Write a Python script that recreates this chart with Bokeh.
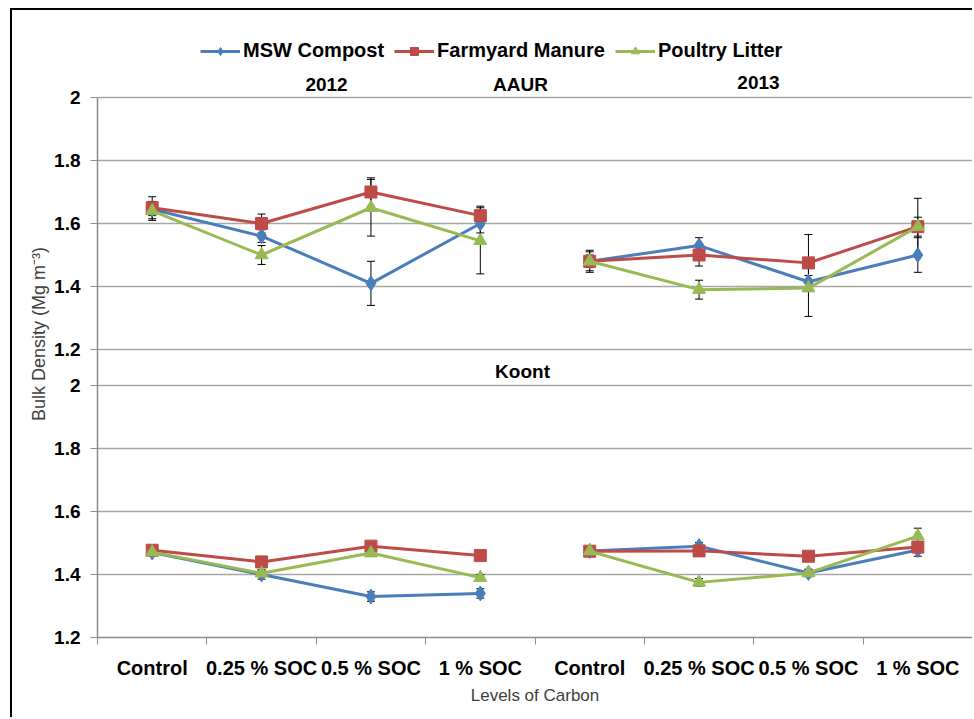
from bokeh.plotting import figure
from bokeh.models import (ColumnDataSource, Range1d, FixedTicker, Grid, Whisker, TeeHead,
                          Legend, LegendItem, Label)
from bokeh.embed import file_html
from bokeh.resources import INLINE

# ---------------- data ----------------
YEARS = ["2012", "2013"]
LEVELS = ["Control", "0.25 % SOC", "0.5 % SOC", "1 % SOC"]
SERIES = ["MSW Compost", "Farmyard Manure", "Poultry Litter"]
Y_TICKS = [1.2, 1.4, 1.6, 1.8, 2.0]

# values ordered: 2012 (Control, 0.25, 0.5, 1), 2013 (Control, 0.25, 0.5, 1)
aaur_msw = [1.645, 1.56, 1.41, 1.60, 1.48, 1.53, 1.415, 1.50]
aaur_fym = [1.65, 1.60, 1.70, 1.625, 1.48, 1.50, 1.475, 1.59]
aaur_pl = [1.64, 1.50, 1.65, 1.545, 1.48, 1.39, 1.395, 1.59]
aaur_msw_err = [0.02, 0.02, 0.07, 0.03, 0.02, 0.025, 0.02, 0.055]
aaur_fym_err = [0.035, 0.03, 0.045, 0.03, 0.035, 0.035, 0.09, 0.09]
aaur_pl_err = [0.03, 0.03, 0.09, 0.105, 0.03, 0.03, 0.09, 0.03]

koont_msw = [1.47, 1.40, 1.33, 1.34, 1.475, 1.49, 1.405, 1.478]
koont_fym = [1.477, 1.44, 1.49, 1.46, 1.474, 1.475, 1.458, 1.487]
koont_pl = [1.471, 1.404, 1.468, 1.39, 1.474, 1.375, 1.405, 1.522]
koont_msw_err = [0.01, 0.015, 0.015, 0.015, 0.01, 0.012, 0.01, 0.02]
koont_fym_err = [0.01, 0.01, 0.01, 0.012, 0.01, 0.01, 0.01, 0.01]
koont_pl_err = [0.01, 0.01, 0.01, 0.01, 0.01, 0.012, 0.012, 0.025]

# ---------------- style / layout ----------------
COLORS = ["#4A7EBB", "#BE4B48", "#98B954"]
MARKERS = ["diamond", "square", "triangle"]
MSIZES = [15, 12, 13]
FONT = "Liberation Sans"
GRID_C = "#A6A6A6"
AXIS_C = "#8C8C8C"

PPU = 252 / 0.8            # pixels per density unit
FRAME_TOP = 30             # page y of frame top
TOP_PANEL_TOP = 97         # page y of 2.0 in the upper panel
FRAME_BOTTOM = 637         # page y of 1.2 in the lower panel
span = (FRAME_BOTTOM - FRAME_TOP) / PPU

bot_start = 1.2
top_end = 2.0 + (TOP_PANEL_TOP - FRAME_TOP) / PPU
top_start = top_end - span
off = bot_start - top_start     # upper-panel value -> default-range coordinate

p = figure(width=962, height=709, output_backend="svg", toolbar_location=None,
           x_range=Range1d(-0.5, 7.5), y_range=Range1d(bot_start, bot_start + span),
           min_border_left=85, min_border_right=2, min_border_top=FRAME_TOP - 10,
           min_border_bottom=82)
p.margin = (8, 0, 0, 10)
p.styles = {"border-left": "2px solid black", "border-top": "2px solid black"}
p.extra_y_ranges = {"top": Range1d(top_start, top_end)}
p.outline_line_color = None
p.xgrid.visible = False

# ---- y axis: one axis carrying the ticks of both panels ----
ya = p.yaxis[0]
top_ticks = [t + off for t in Y_TICKS]
ya.ticker = FixedTicker(ticks=Y_TICKS + top_ticks)
ya.major_label_overrides = {**{t: f"{t:g}" for t in Y_TICKS},
                            **{t + off: f"{t:g}" for t in Y_TICKS}}
ya.bounds = (Y_TICKS[0], Y_TICKS[-1] + off)
ya.axis_line_color = AXIS_C
ya.axis_line_width = 1.5
ya.major_tick_line_color = AXIS_C
ya.major_tick_out = 7
ya.major_tick_in = 0
ya.minor_tick_line_color = None
ya.major_label_standoff = 10
ya.major_label_text_font = FONT
ya.major_label_text_font_style = "bold"
ya.major_label_text_font_size = "19px"
ya.major_label_text_color = "black"
ya.axis_label = "Bulk Density (Mg m\u207b\u00b3)"
ya.axis_label_text_font = FONT
ya.axis_label_text_font_style = "normal"
ya.axis_label_text_font_size = "18px"
ya.axis_label_text_color = "#404040"
ya.axis_label_standoff = 2

p.ygrid.ticker = FixedTicker(ticks=Y_TICKS)
p.ygrid.grid_line_color = GRID_C
p.ygrid.grid_line_width = 1.5
top_grid = Grid(dimension=1, ticker=FixedTicker(ticks=Y_TICKS), y_range_name="top",
                grid_line_color=GRID_C, grid_line_width=1.5)
p.add_layout(top_grid)

# ---- x axis ----
n = len(YEARS) * len(LEVELS)
xs = list(range(n))
xa = p.xaxis[0]
xa.ticker = FixedTicker(ticks=xs, minor_ticks=[i - 0.5 for i in range(n + 1)])
xa.major_label_overrides = {i: LEVELS[i % len(LEVELS)] for i in xs}
xa.major_tick_line_color = None
xa.major_tick_out = 0
xa.major_tick_in = 0
xa.minor_tick_line_color = AXIS_C
xa.minor_tick_out = 7
xa.minor_tick_in = 0
xa.axis_line_color = AXIS_C
xa.axis_line_width = 1.5
xa.major_label_standoff = 12
xa.major_label_text_font = FONT
xa.major_label_text_font_style = "bold"
xa.major_label_text_font_size = "20px"
xa.major_label_text_color = "black"
xa.axis_label = "Levels of Carbon"
xa.axis_label_text_font = FONT
xa.axis_label_text_font_style = "normal"
xa.axis_label_text_font_size = "17px"
xa.axis_label_text_color = "#404040"
xa.axis_label_standoff = 4

panels = [
    ("top", [aaur_msw, aaur_fym, aaur_pl], [aaur_msw_err, aaur_fym_err, aaur_pl_err]),
    ("default", [koont_msw, koont_fym, koont_pl], [koont_msw_err, koont_fym_err, koont_pl_err]),
]

legend_renderers = {}
nl = len(LEVELS)
for rname, vals, errs in panels:
    for si, (v, e) in enumerate(zip(vals, errs)):
        for yi in range(len(YEARS)):
            sl = slice(yi * nl, (yi + 1) * nl)
            src = ColumnDataSource(dict(x=xs[sl], y=v[sl],
                                        upper=[a + b for a, b in zip(v[sl], e[sl])],
                                        lower=[a - b for a, b in zip(v[sl], e[sl])]))
            ln = p.line("x", "y", source=src, y_range_name=rname, line_color=COLORS[si], line_width=3)
            sc = p.scatter("x", "y", source=src, y_range_name=rname, marker=MARKERS[si],
                           size=MSIZES[si], fill_color=COLORS[si], line_color=COLORS[si])
            p.add_layout(Whisker(source=src, base="x", upper="upper", lower="lower", y_range_name=rname,
                                 line_color="black", line_width=1,
                                 upper_head=TeeHead(size=8, line_color="black", line_width=1),
                                 lower_head=TeeHead(size=8, line_color="black", line_width=1)))
            if rname == "top" and yi == 0:
                legend_renderers[SERIES[si]] = [ln, sc]

legend = Legend(items=[LegendItem(label=s, renderers=legend_renderers[s]) for s in SERIES],
                orientation="horizontal", location=(103, 575),
                border_line_color=None, background_fill_alpha=0,
                label_text_font=FONT, label_text_font_style="bold", label_text_font_size="20px",
                label_text_color="black", glyph_width=40, glyph_height=20,
                spacing=10, padding=0, margin=0, label_standoff=3)
p.add_layout(legend)

def txt(text, x, y, rname="default"):
    p.add_layout(Label(x=x, y=y, y_range_name=rname, text=text, text_font=FONT,
                       text_font_size="19px", text_font_style="bold", text_color="black",
                       text_align="center", text_baseline="middle"))

txt(YEARS[0], 1.594, 2.041, "top")
txt("AAUR", 3.367, 2.041, "top")
txt(YEARS[1], 5.543, 2.048, "top")
txt("Koont", 3.386, 2.044)

open("out.html", "w").write(file_html(p, INLINE))
